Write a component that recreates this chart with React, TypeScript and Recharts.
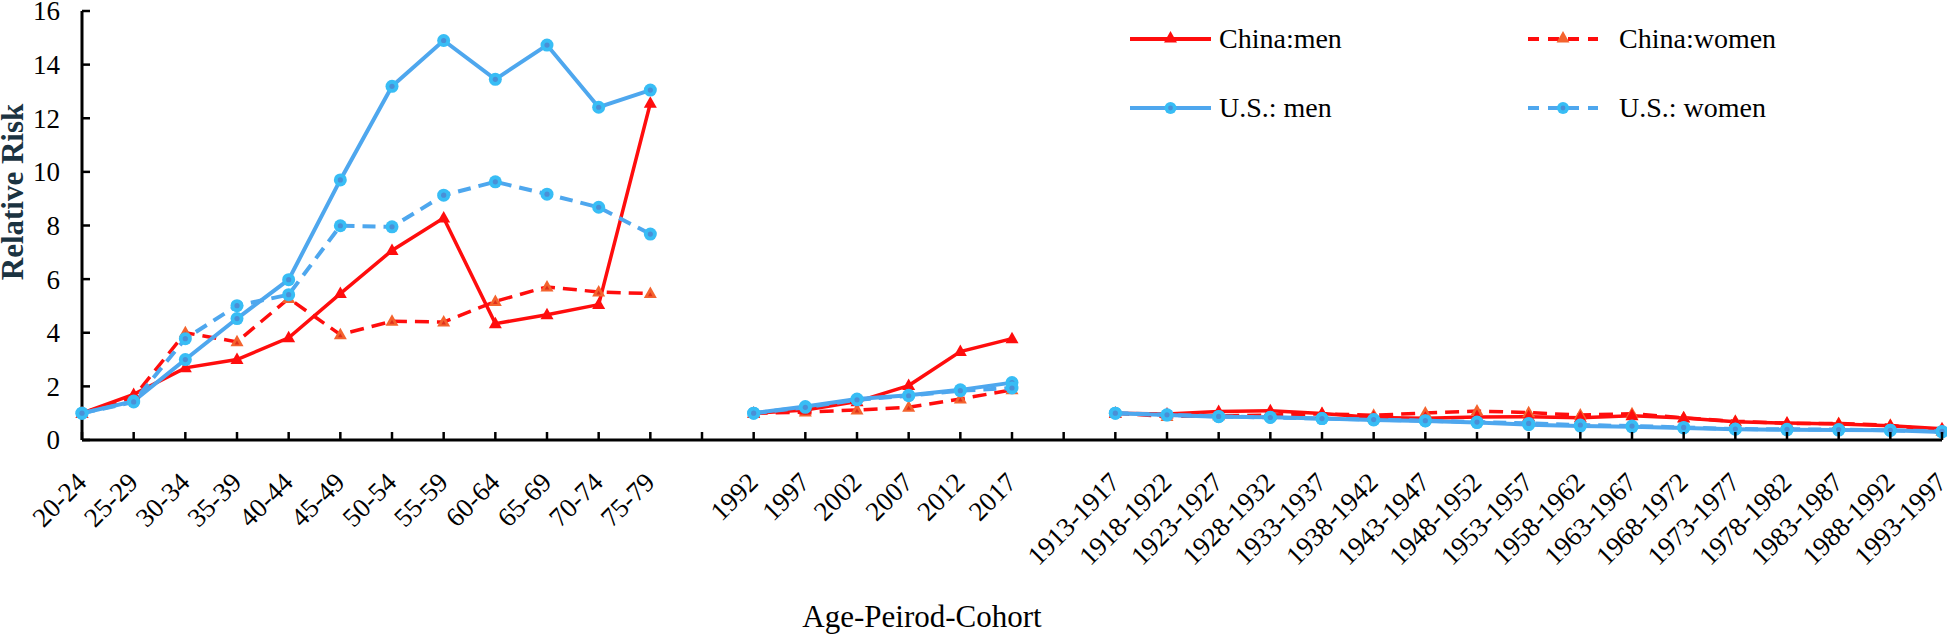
import { LineChart, Line, XAxis, YAxis } from "recharts";

const SERIF = "'Liberation Serif', 'Times New Roman', serif";

// ── Categories ────────────────────────────────────────────────
const ageGroups = ["20-24", "25-29", "30-34", "35-39", "40-44", "45-49", "50-54", "55-59", "60-64", "65-69", "70-74", "75-79"];
const periods = ["1992", "1997", "2002", "2007", "2012", "2017"];
const cohorts = [
  "1913-1917", "1918-1922", "1923-1927", "1928-1932", "1933-1937", "1938-1942",
  "1943-1947", "1948-1952", "1953-1957", "1958-1962", "1963-1967", "1968-1972",
  "1973-1977", "1978-1982", "1983-1987", "1988-1992", "1993-1997",
];

// ── Relative risk, age effect ────────────────────────────────
const chinaMenAge = [1.0, 1.7, 2.69, 3.0, 3.81, 5.46, 7.07, 8.28, 4.34, 4.67, 5.05, 12.56];
const chinaWomenAge = [1.0, 1.6, 4.0, 3.66, 5.28, 3.93, 4.43, 4.4, 5.17, 5.71, 5.52, 5.46];
const usMenAge = [1.0, 1.45, 3.0, 4.53, 5.98, 9.7, 13.19, 14.9, 13.45, 14.73, 12.41, 13.05];
const usWomenAge = [1.0, 1.42, 3.78, 5.01, 5.42, 7.99, 7.95, 9.13, 9.63, 9.17, 8.68, 7.68];

// ── Relative risk, period effect ─────────────────────────────
const chinaMenPeriod = [1.0, 1.12, 1.43, 2.03, 3.3, 3.78];
const chinaWomenPeriod = [1.0, 1.04, 1.12, 1.22, 1.53, 1.87];
const usMenPeriod = [1.0, 1.25, 1.53, 1.67, 1.87, 2.14];
const usWomenPeriod = [1.0, 1.22, 1.5, 1.65, 1.84, 1.94];

// ── Relative risk, cohort effect ─────────────────────────────
const chinaMenCohort = [1.0, 0.97, 1.06, 1.09, 0.99, 0.84, 0.81, 0.86, 0.87, 0.83, 0.9, 0.82, 0.68, 0.63, 0.6, 0.53, 0.42];
const chinaWomenCohort = [1.0, 0.88, 0.9, 0.93, 0.98, 0.92, 1.01, 1.08, 1.02, 0.93, 0.98, 0.83, 0.7, 0.62, 0.62, 0.55, 0.33];
const usMenCohort = [1.0, 0.93, 0.87, 0.85, 0.8, 0.75, 0.71, 0.65, 0.57, 0.52, 0.49, 0.45, 0.4, 0.38, 0.37, 0.36, 0.3];
const usWomenCohort = [1.0, 0.94, 0.88, 0.84, 0.8, 0.76, 0.72, 0.67, 0.62, 0.56, 0.52, 0.47, 0.41, 0.4, 0.39, 0.36, 0.32];

const yTicks = [0, 2, 4, 6, 8, 10, 12, 14, 16];

type Row = { label: string; cm: number | null; cw: number | null; um: number | null; uw: number | null };

const blank = (): Row => ({ label: "", cm: null, cw: null, um: null, uw: null });

const block = (labels: string[], cm: number[], cw: number[], um: number[], uw: number[]): Row[] =>
  labels.map((label, i) => ({ label, cm: cm[i], cw: cw[i], um: um[i], uw: uw[i] }));

// a blank category between blocks breaks the lines
const data: Row[] = [
  ...block(ageGroups, chinaMenAge, chinaWomenAge, usMenAge, usWomenAge),
  blank(),
  ...block(periods, chinaMenPeriod, chinaWomenPeriod, usMenPeriod, usWomenPeriod),
  blank(),
  ...block(cohorts, chinaMenCohort, chinaWomenCohort, usMenCohort, usWomenCohort),
];

const RED = "#ff0d0d";
const ORANGE = "#f4632e";
const BLUE = "#4ea7ee";
const CYAN = "#38bdf5";

const triPath = (cx: number, cy: number, s = 1) =>
  `M${cx},${cy - 7 * s} L${cx + 6.5 * s},${cy + 4.5 * s} L${cx - 6.5 * s},${cy + 4.5 * s} Z`;

function RedTri(props: any) {
  const { cx, cy, value } = props;
  if (value == null || cx == null) return <g />;
  return <path d={triPath(cx, cy)} fill={RED} />;
}

function OrangeTri(props: any) {
  const { cx, cy, value } = props;
  if (value == null || cx == null) return <g />;
  return (
    <g>
      <path d={triPath(cx, cy)} fill={ORANGE} />
      <path d={triPath(cx, cy + 1, 0.35)} fill="#e0301c" />
    </g>
  );
}

function BlueDot(props: any) {
  const { cx, cy, value } = props;
  if (value == null || cx == null) return <g />;
  return (
    <g>
      <circle cx={cx} cy={cy} r={6.5} fill={CYAN} />
      <circle cx={cx} cy={cy} r={2.6} fill="#4a8fd6" />
    </g>
  );
}

function XTick({ x, y, payload }: any) {
  const ax = x + 6;
  const ay = y + 44;
  return (
    <g>
      <line x1={x} y1={y} x2={x} y2={y - 8} stroke="#000" strokeWidth={2.5} />
      {payload.value ? (
        <text
          x={ax}
          y={ay}
          transform={`rotate(-45 ${ax} ${ay})`}
          textAnchor="end"
          fontFamily={SERIF}
          fontSize={27}
          fill="#000"
        >
          {payload.value}
        </text>
      ) : null}
    </g>
  );
}

function YTick({ x, y, payload }: any) {
  return (
    <g>
      <line x1={x} y1={y} x2={x + 8} y2={y} stroke="#000" strokeWidth={2.5} />
      <text x={x - 22} y={y} dy="0.35em" textAnchor="end" fontFamily={SERIF} fontSize={27} fill="#000">
        {payload.value}
      </text>
    </g>
  );
}

function LegendItem({ x, y, label, color, dashed, marker }: any) {
  const x2 = dashed ? x + 70 : x + 81;
  const mx = (x + x2) / 2;
  return (
    <g>
      <line x1={x} y1={y} x2={x2} y2={y} stroke={color} strokeWidth={4} strokeDasharray={dashed ? "11 9" : undefined} />
      {marker === "tri" && <path d={triPath(mx, y - 1)} fill={dashed ? ORANGE : RED} />}
      {marker === "dot" && (
        <g>
          <circle cx={mx} cy={y} r={6} fill={CYAN} />
          <circle cx={mx} cy={y} r={2.4} fill="#4a8fd6" />
        </g>
      )}
      <text x={x2 + (dashed ? 21 : 8)} y={y + 9} fontFamily={SERIF} fontSize={28} fill="#000">
        {label}
      </text>
    </g>
  );
}

export default function App() {
  return (
    <div style={{ position: "absolute", left: 0, top: 0, width: 1947, height: 643, background: "#fff" }}>
      <LineChart width={1947} height={643} data={data} margin={{ top: 11, right: 5, left: 0, bottom: 0 }}>
        <XAxis
          dataKey="label"
          height={203}
          interval={0}
          tickSize={0}
          tickMargin={0}
          tickLine={false}
          axisLine={{ stroke: "#000", strokeWidth: 3 }}
          tick={<XTick />}
        />
        <YAxis
          width={82}
          domain={[0, 16]}
          ticks={yTicks}
          interval={0}
          tickSize={0}
          tickMargin={0}
          tickLine={false}
          axisLine={{ stroke: "#000", strokeWidth: 3 }}
          tick={<YTick />}
        />
        <Line
          dataKey="cw"
          stroke={RED}
          strokeWidth={3.5}
          strokeDasharray="14 8"
          dot={<OrangeTri />}
          activeDot={false}
          isAnimationActive={false}
        />
        <Line dataKey="cm" stroke={RED} strokeWidth={3.5} dot={<RedTri />} activeDot={false} isAnimationActive={false} />
        <Line dataKey="um" stroke={BLUE} strokeWidth={4} dot={<BlueDot />} activeDot={false} isAnimationActive={false} />
        <Line
          dataKey="uw"
          stroke={BLUE}
          strokeWidth={4}
          strokeDasharray="13 8"
          dot={<BlueDot />}
          activeDot={false}
          isAnimationActive={false}
        />
      </LineChart>

      <svg width={1947} height={643} style={{ position: "absolute", left: 0, top: 0, pointerEvents: "none" }}>
        <text
          x={12}
          y={192}
          transform="rotate(-90 12 192)"
          textAnchor="middle"
          dominantBaseline="central"
          fontFamily={SERIF}
          fontWeight="bold"
          fontSize={31}
          fill="#1b3341"
        >
          Relative Risk
        </text>
        <text x={922} y={627} textAnchor="middle" fontFamily={SERIF} fontSize={31} fill="#000">
          Age-Peirod-Cohort
        </text>
        <LegendItem x={1130} y={39} label="China:men" color={RED} marker="tri" />
        <LegendItem x={1528} y={39} label="China:women" color={RED} dashed marker="tri" />
        <LegendItem x={1130} y={108} label="U.S.: men" color={BLUE} marker="dot" />
        <LegendItem x={1528} y={108} label="U.S.: women" color={BLUE} dashed marker="dot" />
      </svg>
    </div>
  );
}
